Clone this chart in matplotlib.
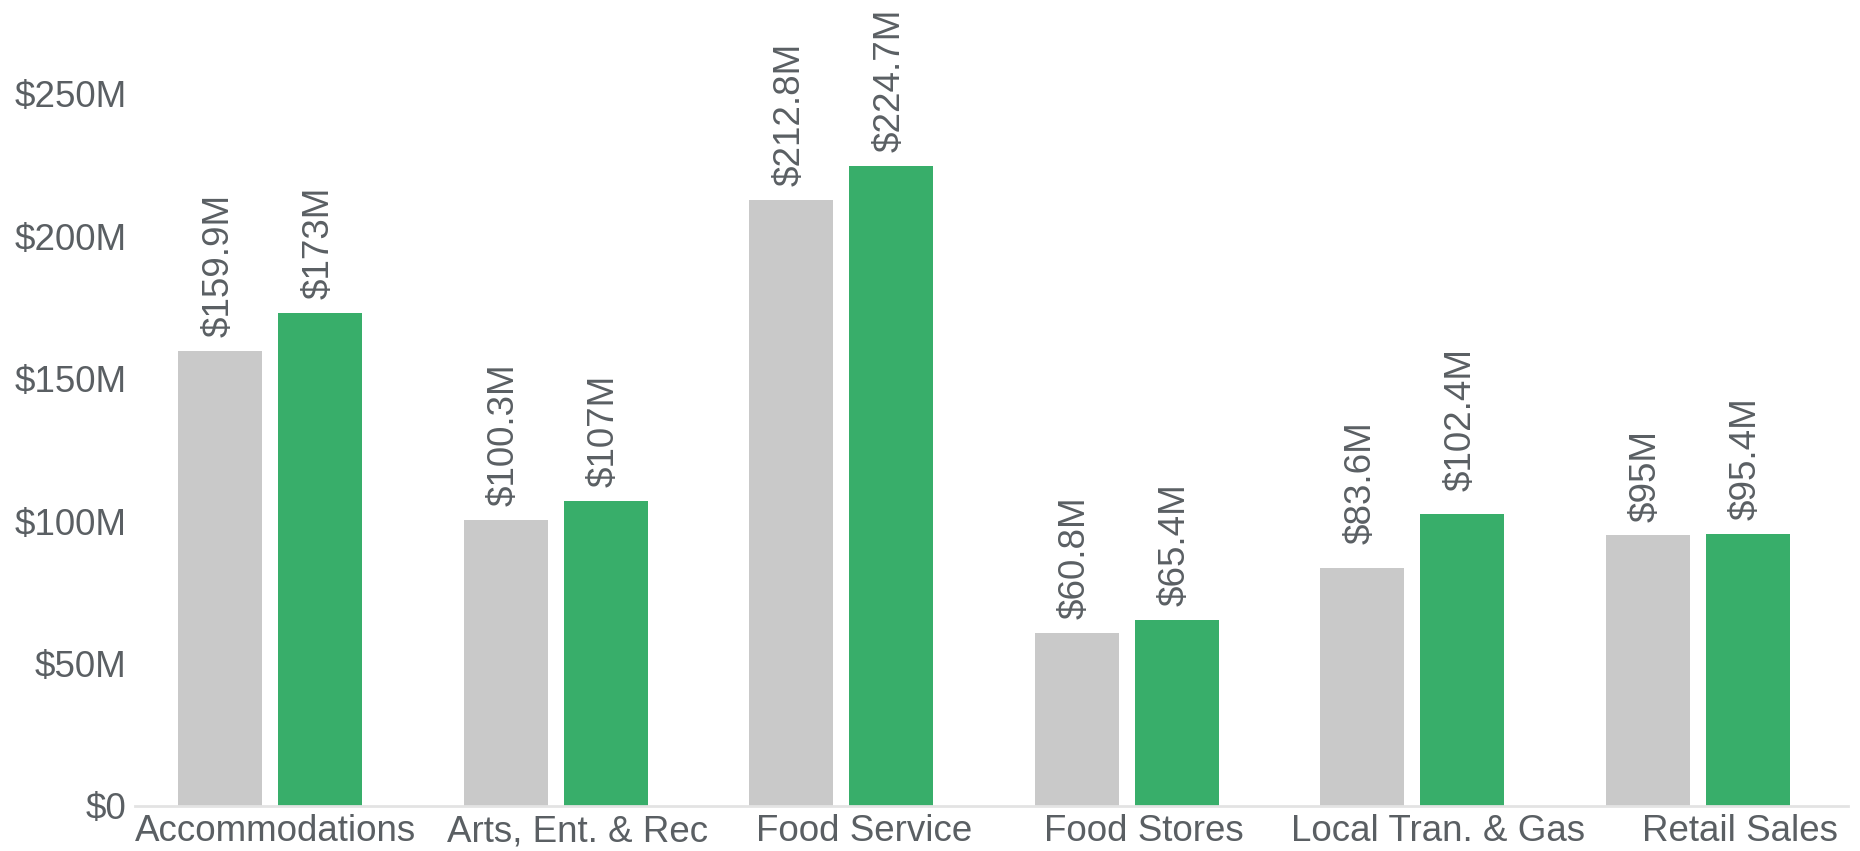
import matplotlib
matplotlib.use("Agg")
import matplotlib.pyplot as plt
import matplotlib.transforms as mtransforms
import numpy as np

categories = ["Accommodations", "Arts, Ent. & Rec", "Food Service",
              "Food Stores", "Local Tran. & Gas", "Retail Sales"]
prev_values = [159.9, 100.3, 212.8, 60.8, 83.6, 95.0]
curr_values = [173.0, 107.0, 224.7, 65.4, 102.4, 95.4]
prev_labels = ["$159.9M", "$100.3M", "$212.8M", "$60.8M", "$83.6M", "$95M"]
curr_labels = ["$173M", "$107M", "$224.7M", "$65.4M", "$102.4M", "$95.4M"]
y_ticks = [0, 50, 100, 150, 200, 250]
y_tick_labels = ["$0", "$50M", "$100M", "$150M", "$200M", "$250M"]

plt.rcParams['font.family'] = ['Liberation Sans', 'DejaVu Sans']
text_color = "#5a5f63"
gray = "#c9c9c9"
green = "#38ae6a"

DPI = 100
fig = plt.figure(figsize=(18.6, 8.51), dpi=DPI)
ax = fig.add_axes([0.0726, 0.0529, 0.9935 - 0.0726, 1 - 0.0529])

x = np.arange(len(categories))
w = 0.294
off = 0.175
b1 = ax.bar(x - off, prev_values, width=w, color=gray, zorder=2)
b2 = ax.bar(x + off, curr_values, width=w, color=green, zorder=2)

fs = 26.5
# extra lift (points) of value labels per group, as in the reference layout
label_lift_pt = [0, 0, 0, 0, 7, 0]
for bars, labels in ((b1, prev_labels), (b2, curr_labels)):
    for rect, lab, lift in zip(bars, labels, label_lift_pt):
        ax.annotate(lab, (rect.get_x() + rect.get_width() / 2, rect.get_height()),
                    xytext=(-1, 10 + lift), textcoords="offset points",
                    rotation=90, ha="center", va="bottom",
                    fontsize=fs, color=text_color)

ax.set_xlim(-0.473, 5.525)
ax.set_ylim(0, 283)
ax.set_xticks(x)
ax.set_xticklabels(categories, fontsize=fs, color=text_color)
ax.set_yticks(y_ticks)
ax.set_yticklabels(y_tick_labels, fontsize=fs, color=text_color)
ax.tick_params(axis="both", length=0)
ax.tick_params(axis="x", pad=6)
ax.tick_params(axis="y", pad=6)

# horizontal nudges of the category labels (pixels), as in the reference layout
label_shift_px = [5, 22, 23, 17, 26, 42]
for lbl, dx in zip(ax.get_xticklabels(), label_shift_px):
    lbl.set_transform(lbl.get_transform() +
                      mtransforms.ScaledTranslation(dx / DPI, 0, fig.dpi_scale_trans))

for s in ["top", "right", "left"]:
    ax.spines[s].set_visible(False)
ax.spines["bottom"].set_color("#e3e3e3")
ax.spines["bottom"].set_linewidth(2)
ax.patch.set_alpha(0)

fig.savefig("out.png", dpi=DPI)
